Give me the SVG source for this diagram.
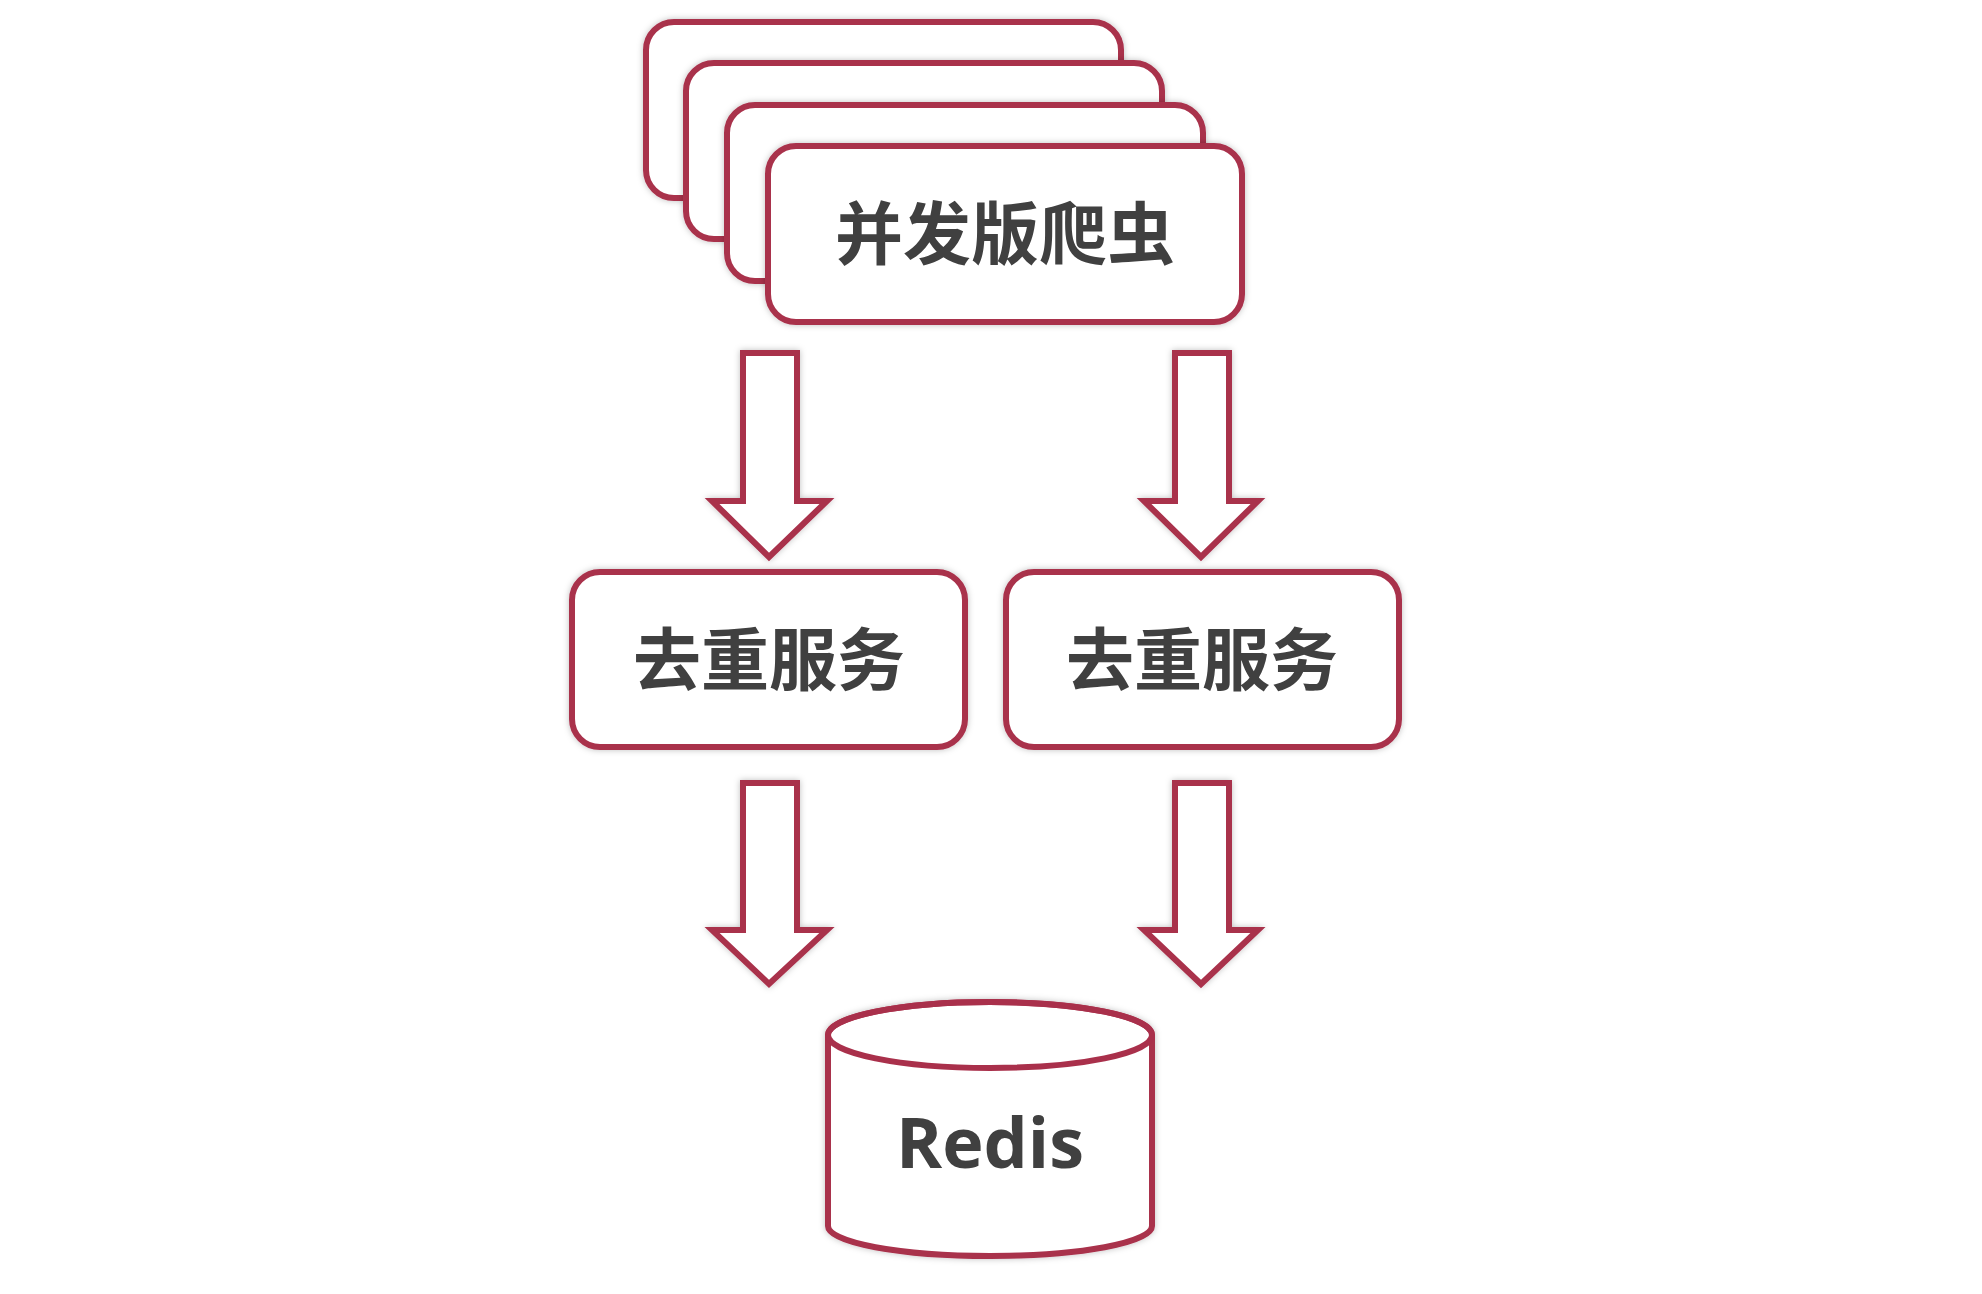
<svg xmlns="http://www.w3.org/2000/svg" width="1982" height="1294" viewBox="0 0 1982 1294">
<style>
.shape{fill:#ffffff;stroke:#A9304B;stroke-width:6;stroke-linejoin:miter;filter:url(#sh)}
.cjk{font-family:"Noto Sans CJK SC","Noto Sans",sans-serif;font-weight:700;font-size:68px;fill:#404040;text-anchor:middle}
.lat{font-family:"Open Sans","Liberation Sans",sans-serif;font-weight:700;font-size:70px;fill:#404040;text-anchor:middle}
</style>
<defs>
<filter id="sh" x="-10%" y="-10%" width="120%" height="120%">
<feDropShadow dx="0" dy="0" stdDeviation="3" flood-color="#000" flood-opacity="0.25"/>
</filter>
</defs>
<rect width="1982" height="1294" fill="#ffffff"/>
<g id="crawler">
<rect class="shape" x="646" y="22" width="475" height="176" rx="28"/>
<rect class="shape" x="686" y="63" width="476" height="176" rx="28"/>
<rect class="shape" x="727" y="105" width="476" height="176" rx="28"/>
<rect class="shape" x="768" y="146" width="474" height="176" rx="28"/>
<text class="cjk" x="1005" y="259">并发版爬虫</text>
</g>
<g id="dedup-left">
<rect class="shape" x="572" y="572" width="393" height="175" rx="28"/>
<text class="cjk" x="769" y="685">去重服务</text>
</g>
<g id="dedup-right">
<rect class="shape" x="1006" y="572" width="393" height="175" rx="28"/>
<text class="cjk" x="1202" y="685">去重服务</text>
</g>
<g id="redis">
<path class="shape" d="M828 1035 L828 1226 A162 30 0 0 0 1152 1226 L1152 1035 A162 33 0 0 0 828 1035 Z"/>
<ellipse cx="990" cy="1035" rx="162" ry="33" fill="none" stroke="#A9304B" stroke-width="6"/>
<text class="lat" x="990" y="1168">Redis</text>
</g>
<g id="connectors">
<polygon class="shape" points="743,353 797,353 797,501 827,501 769,557 712,501 743,501"/>
<polygon class="shape" points="1175,353 1229,353 1229,501 1258,501 1201,557 1144,501 1175,501"/>
<polygon class="shape" points="743,783 797,783 797,930 827,930 769,984 712,930 743,930"/>
<polygon class="shape" points="1175,783 1229,783 1229,930 1258,930 1201,984 1144,930 1175,930"/>
</g>
</svg>
